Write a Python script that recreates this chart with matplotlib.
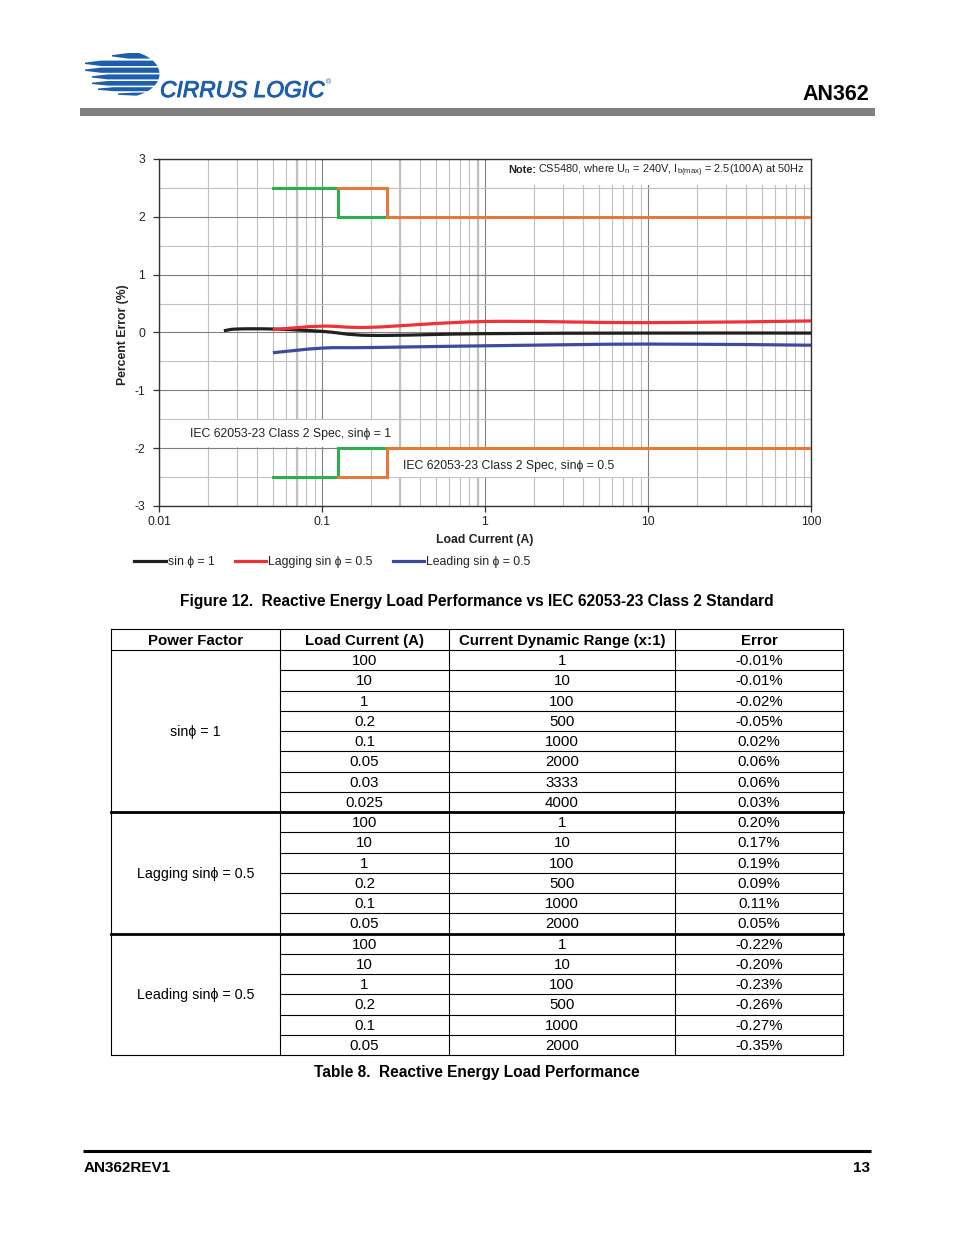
import numpy as np
import matplotlib
matplotlib.use('Agg')
import matplotlib.pyplot as plt
import matplotlib.patheffects as pe
from matplotlib.path import Path
from matplotlib.patches import PathPatch, Rectangle, Polygon
from matplotlib.ticker import FixedLocator, NullFormatter, MultipleLocator

FONT = ['Liberation Sans', 'DejaVu Sans']
plt.rcParams['font.family'] = FONT
plt.rcParams['mathtext.fontset'] = 'custom'
plt.rcParams['mathtext.rm'] = 'Liberation Sans'
plt.rcParams['mathtext.bf'] = 'Liberation Sans:bold'
plt.rcParams['mathtext.it'] = 'Liberation Sans:italic'

# ---------------- data ----------------
x_sin1 = [0.025, 0.03, 0.05, 0.1, 0.2, 1, 10, 100]
y_sin1 = [0.03, 0.06, 0.06, 0.02, -0.05, -0.02, -0.01, -0.01]
x_lag = [0.05, 0.1, 0.2, 1, 10, 100]
y_lag = [0.05, 0.11, 0.09, 0.19, 0.17, 0.20]
x_lead = [0.05, 0.1, 0.2, 1, 10, 100]
y_lead = [-0.35, -0.27, -0.26, -0.23, -0.20, -0.22]

spec1_x = [0.05, 0.125, 0.125, 0.25]
spec1_hi = [2.5, 2.5, 2.0, 2.0]
spec05_x = [0.125, 0.25, 0.25, 100]
spec05_hi = [2.5, 2.5, 2.0, 2.0]

x_ticks = [0.01, 0.1, 1, 10, 100]
x_tick_labels = ['0.01', '0.1', '1', '10', '100']
y_ticks = [3, 2, 1, 0, -1, -2, -3]
y_tick_labels = ['3', '2', '1', '0', '-1', '-2', '-3']
extra_grid_x = [0.07, 0.3, 0.9]

series_labels = ['sin \u03d5 = 1', 'Lagging sin \u03d5 = 0.5', 'Leading sin \u03d5 = 0.5']
group_labels = ['sin\u03d5 = 1', 'Lagging sin\u03d5 = 0.5', 'Leading sin\u03d5 = 0.5']
dyn_sin1 = [4000, 3333, 2000, 1000, 500, 100, 10, 1]
dyn_05 = [2000, 1000, 500, 100, 10, 1]
table_headers = ['Power Factor', 'Load Current (A)', 'Current Dynamic Range (x:1)', 'Error']

# colours
C_BLACK = '#231f20'
C_RED = '#ee3237'
C_BLUE = '#3d4a9e'
C_GREEN = '#2bb04d'
C_ORANGE = '#e8773a'
C_LOGO = '#1d5fad'
C_TXT = '#222222'

W, H = 954, 1235
fig = plt.figure(figsize=(W / 100, H / 100), dpi=100)


def fx(px):
    return px / W


def fy(py):
    return 1 - py / H


# page layer (pixel coordinates)
pax = fig.add_axes([0, 0, 1, 1])
pax.set_xlim(0, W)
pax.set_ylim(H, 0)
pax.axis('off')
pax.patch.set_alpha(0)

# ---------------- header ----------------
ecx, ecy, ea, eb = 122, 74, 37.5, 23.5
stripes = [(53, 58.6, 112), (60.6, 66, 85), (67.6, 72.8, 85), (74.4, 79.4, 92),
           (81, 85.6, 92), (87.2, 91.2, 98), (92.6, 95.6, 118)]
for yt, yb, xl in stripes:
    ys = np.linspace(yt, yb, 14)
    xr = ecx + ea * np.sqrt(np.clip(1 - ((ys - ecy) / eb) ** 2, 0, 1))
    ym = (yt + yb) / 2
    pts = [(xl, ym - 0.7)]
    pts += [(xl + 16, yt)]
    pts += list(zip(xr, ys))
    pts += [(xl + 16, yb), (xl, ym + 0.7)]
    pax.add_patch(Polygon(pts, closed=True, facecolor=C_LOGO, edgecolor='none'))
pax.text(160, 97, 'CIRRUS LOGIC', fontsize=16.4, style='italic', color=C_LOGO,
         ha='left', va='baseline', family=FONT,
         path_effects=[pe.withStroke(linewidth=0.7, foreground=C_LOGO)])
pax.text(326, 84, '\u00ae', fontsize=5, color=C_LOGO, ha='left', va='baseline')
pax.text(869, 94.5, 'AN362', fontsize=15.5, fontweight='bold', ha='right', va='center')
pax.add_patch(Rectangle((80, 108), 795, 8, facecolor='#808080', edgecolor='none'))

# ---------------- chart ----------------
ax = fig.add_axes([fx(159), fy(506), (811 - 159) / W, (506 - 159) / H])
ax.set_xscale('log')
ax.set_xlim(0.01, 100)
ax.set_ylim(-3, 3)
ax.set_axisbelow(True)
ax.xaxis.set_major_locator(FixedLocator(x_ticks))
ax.set_xticklabels(x_tick_labels)
minor = [d * s for d in [0.01, 0.1, 1, 10] for s in range(2, 10)]
ax.xaxis.set_minor_locator(FixedLocator(minor))
ax.xaxis.set_minor_formatter(NullFormatter())
ax.yaxis.set_major_locator(FixedLocator(y_ticks))
ax.set_yticklabels(y_tick_labels)
ax.yaxis.set_minor_locator(MultipleLocator(0.5))
ax.grid(which='major', color='#7f7f7f', lw=0.8)
ax.grid(which='minor', color='#c0c0c0', lw=0.8)
for gx in extra_grid_x:
    ax.axvline(gx, color='#c0c0c0', lw=1.6, zorder=0.5)
ax.tick_params(which='major', direction='out', length=4, width=0.9, color='#303030',
               labelsize=8.8, labelcolor=C_TXT)
ax.tick_params(axis='x', which='major', pad=3.2)
ax.tick_params(axis='y', which='major', pad=6)
ax.tick_params(which='minor', length=0)
for sp in ax.spines.values():
    sp.set_color('#333333')
    sp.set_linewidth(1.0)


def px_rect(x0, y0, x1, y1):
    return Rectangle((fx(x0), fy(y1)), fx(x1) - fx(x0), (y1 - y0) / H,
                     transform=fig.transFigure, facecolor='white', edgecolor='none', zorder=1)


ax.add_patch(px_rect(490, 160, 810, 185))
ax.add_patch(px_rect(160, 420, 398, 447))
ax.add_patch(px_rect(389, 450, 645, 477))


def smooth_path(xs, ys):
    lx = np.log10(np.asarray(xs, float))
    yy = np.asarray(ys, float)
    P = np.column_stack([lx, yy])
    n = len(P)
    Pe = np.vstack([P[0], P, P[-1]])
    verts = [P[0]]
    codes = [Path.MOVETO]
    for i in range(n - 1):
        p0, p1, p2, p3 = Pe[i], Pe[i + 1], Pe[i + 2], Pe[i + 3]
        c1 = p1 + (p2 - p0) / 6
        c2 = p2 - (p3 - p1) / 6
        verts += [c1, c2, p2]
        codes += [Path.CURVE4] * 3
    verts = np.array(verts)
    verts[:, 0] = 10 ** verts[:, 0]
    return Path(verts, codes)


LW = 2.3
handles = []
for xs, ys, c, lab in [(x_sin1, y_sin1, C_BLACK, series_labels[0]),
                       (x_lag, y_lag, C_RED, series_labels[1]),
                       (x_lead, y_lead, C_BLUE, series_labels[2])]:
    ax.add_patch(PathPatch(smooth_path(xs, ys), facecolor='none', edgecolor=c, lw=LW,
                           capstyle='butt', zorder=3))
    h, = ax.plot([], [], color=c, lw=LW, label=lab)
    handles.append(h)

for sign in [1, -1]:
    ax.plot(spec1_x, [sign * v for v in spec1_hi], color=C_GREEN, lw=2.2, zorder=4,
            solid_joinstyle='miter')
    ax.plot(spec05_x, [sign * v for v in spec05_hi], color=C_ORANGE, lw=2.2, zorder=4,
            solid_joinstyle='miter')

note_rest = fig.text(fx(805), fy(173),
                     r'CS5480, where U$_{\mathrm{n}}$ = 240V, I$_{\mathrm{b(max)}}$ = 2.5(100A) at 50Hz',
                     fontsize=7.9, ha='right', va='baseline', color=C_TXT)
renderer = fig.canvas.get_renderer()
bb = note_rest.get_window_extent(renderer)
fig.text((bb.x0 - 2.5) / W, fy(173), 'Note:', fontsize=7.9, fontweight='bold',
         ha='right', va='baseline', color=C_TXT)

fig.text(fx(190), fy(434.5), 'IEC 62053-23 Class 2 Spec, sin\u03d5 = 1', fontsize=8.8,
         ha='left', va='center', color=C_TXT)
fig.text(fx(403), fy(466.5), 'IEC 62053-23 Class 2 Spec, sin\u03d5 = 0.5', fontsize=8.8,
         ha='left', va='center', color=C_TXT)
fig.text(fx(123), fy(335), 'Percent Error (%)', fontsize=8.8, fontweight='bold',
         rotation=90, ha='center', va='center', color=C_TXT)
fig.text(fx(485), fy(540.5), 'Load Current (A)', fontsize=8.8, fontweight='bold',
         ha='center', va='center', color=C_TXT)

fig.legend(handles=handles, loc='center left', bbox_to_anchor=(fx(134), fy(562)),
           ncol=3, frameon=False, fontsize=8.8, borderpad=0, borderaxespad=0,
           handlelength=2.6, handletextpad=0.15, columnspacing=1.65,
           labelcolor=C_TXT)

pax.text(477, 601.5, 'Figure 12.  Reactive Energy Load Performance vs IEC 62053-23 Class 2 Standard',
         fontsize=11.2, fontweight='bold', ha='center', va='center')

# ---------------- table ----------------
tx = [111, 280, 449, 675, 843]
ty_head0, ty_head1 = 629, 650
ty_end = 1055
groups = [
    (group_labels[0], x_sin1, y_sin1, dyn_sin1),
    (group_labels[1], x_lag, y_lag, dyn_05),
    (group_labels[2], x_lead, y_lead, dyn_05),
]
n_rows = sum(len(g[1]) for g in groups)
row_h = (ty_end - ty_head1) / n_rows
TFS = 10.8
thin = 0.8
thick = 2.0

for j, hd in enumerate(table_headers):
    pax.text((tx[j] + tx[j + 1]) / 2, (ty_head0 + ty_head1) / 2 + 1.5, hd, fontsize=TFS,
             fontweight='bold', ha='center', va='center')

pax.plot([tx[0], tx[-1]], [ty_head0, ty_head0], color='black', lw=thin)
pax.plot([tx[0], tx[-1]], [ty_head1, ty_head1], color='black', lw=thin)
for xv in tx:
    pax.plot([xv, xv], [ty_head0, ty_end], color='black', lw=thin)

r = 0
for gi, (glab, xs, ys, dyn) in enumerate(groups):
    g0 = ty_head1 + r * row_h
    g1 = g0 + len(xs) * row_h
    pax.text((tx[0] + tx[1]) / 2, (g0 + g1) / 2 + 1.0, glab, fontsize=TFS - 0.5,
             ha='center', va='center')
    n = len(xs)
    for k in range(n):
        idx = n - 1 - k
        y0 = ty_head1 + r * row_h
        yc = y0 + row_h / 2 + 1.0
        vals = [f'{xs[idx]:g}', f'{dyn[idx]}', f'{ys[idx]:.2f}%']
        for j, v in enumerate(vals):
            pax.text((tx[j + 1] + tx[j + 2]) / 2, yc, v, fontsize=TFS, ha='center', va='center')
        r += 1
        yl = ty_head1 + r * row_h
        if k < n - 1:
            pax.plot([tx[1], tx[-1]], [yl, yl], color='black', lw=thin)
        else:
            pax.plot([tx[0], tx[-1]], [yl, yl], color='black',
                     lw=(thick if gi < len(groups) - 1 else thin))

pax.text(477, 1072.5, 'Table 8.  Reactive Energy Load Performance', fontsize=11.2,
         fontweight='bold', ha='center', va='center')

# ---------------- footer ----------------
pax.plot([83, 871], [1150.5, 1150.5], color='black', lw=2.2, solid_capstyle='butt')
pax.text(84, 1167.5, 'AN362REV1', fontsize=11, fontweight='bold', ha='left', va='center')
pax.text(870, 1167.5, '13', fontsize=11, fontweight='bold', ha='right', va='center')

fig.savefig('out.png', dpi=100)
